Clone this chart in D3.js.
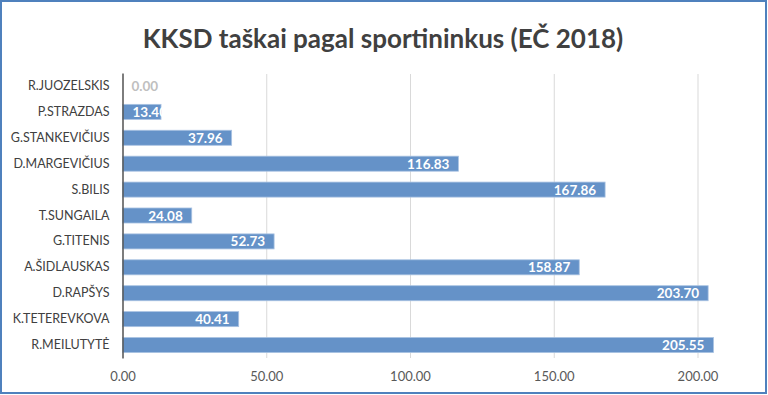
<!DOCTYPE html>
<html><head>
<meta charset="utf-8">
<script src="https://d3js.org/d3.v7.min.js"></script>
<style>
  body { margin: 0; background: white; }
  svg { display: block; }
</style>
</head>
<body>
<svg width="768" height="395"></svg>
<script>
// chart data
let athletes = ["R.JUOZELSKIS", "P.STRAZDAS", "G.STANKEVIČIUS", "D.MARGEVIČIUS", "S.BILIS",
  "T.SUNGAILA", "G.TITENIS", "A.ŠIDLAUSKAS", "D.RAPŠYS", "K.TETEREVKOVA", "R.MEILUTYTĖ"];
let points = [0.00, 13.40, 37.96, 116.83, 167.86, 24.08, 52.73, 158.87, 203.70, 40.41, 205.55];
let ticks = [0, 50, 100, 150, 200];
let title = "KKSD taškai pagal sportininkus (EČ 2018)";

let svg = d3.select("svg");
let font = "Lato, 'Open Sans', sans-serif";

// outer frame
svg.append("rect")
    .attr("x", 1).attr("y", 1).attr("width", 765).attr("height", 392)
    .attr("fill", "white").attr("stroke", "#4f81bd").attr("stroke-width", 2);

svg.append("text")
    .attr("x", 383).attr("y", 48)
    .attr("text-anchor", "middle")
    .style("font-family", font).style("font-weight", "bold")
    .style("font-size", "26px").style("fill", "#404040")
    .text(title);

let x = d3.scaleLinear().domain([0, 200]).range([122.5, 697.5]);
let y = d3.scaleBand().domain(athletes).range([73, 358]).paddingInner(0.42).paddingOuter(0.21);

// gridlines
let xAxis = d3.axisBottom(x).tickValues(ticks).tickSize(-(358 - 74)).tickFormat(d3.format(".2f"));
let gx = svg.append("g").attr("transform", "translate(0,358)").call(xAxis);
gx.select(".domain").remove();
gx.selectAll(".tick line").attr("stroke", "#d9d9d9").attr("stroke-width", 1);
gx.selectAll(".tick text")
    .attr("y", 14)
    .style("font-family", font).style("font-size", "13px").style("fill", "#595959");

// bars
svg.selectAll("rect.bar").data(points).enter().append("rect")
    .attr("class", "bar")
    .attr("x", x(0))
    .attr("y", (d, i) => y(athletes[i]))
    .attr("width", d => x(d) - x(0))
    .attr("height", y.bandwidth())
    .attr("fill", "#6592c8")
    .attr("stroke", "#a9c2e2").attr("stroke-width", 0.8);

// value labels
svg.selectAll("text.val").data(points).enter().append("text")
    .attr("class", "val")
    .attr("y", (d, i) => y(athletes[i]) + y.bandwidth() / 2 + 5)
    .attr("x", d => d === 0 ? x(0) + 9 : (x(d) - x(0) < 45 ? x(0) + 10 : x(d) - 9))
    .attr("text-anchor", d => (d === 0 || x(d) - x(0) < 45) ? "start" : "end")
    .style("font-family", font).style("font-weight", "bold").style("font-size", "13.5px")
    .style("fill", d => d === 0 ? "#bfbfbf" : "white")
    .text(d => d.toFixed(2));

// left axis with category labels
let yAxis = d3.axisLeft(y).tickSize(0).tickPadding(13);
let gy = svg.append("g").attr("transform", "translate(" + x(0) + ",0)").call(yAxis);
gy.select(".domain").attr("stroke", "#595959").attr("stroke-width", 1.5);
gy.selectAll(".tick text")
    .style("font-family", font).style("font-size", "12.5px").style("fill", "#404040");
</script>
</body>
</html>
